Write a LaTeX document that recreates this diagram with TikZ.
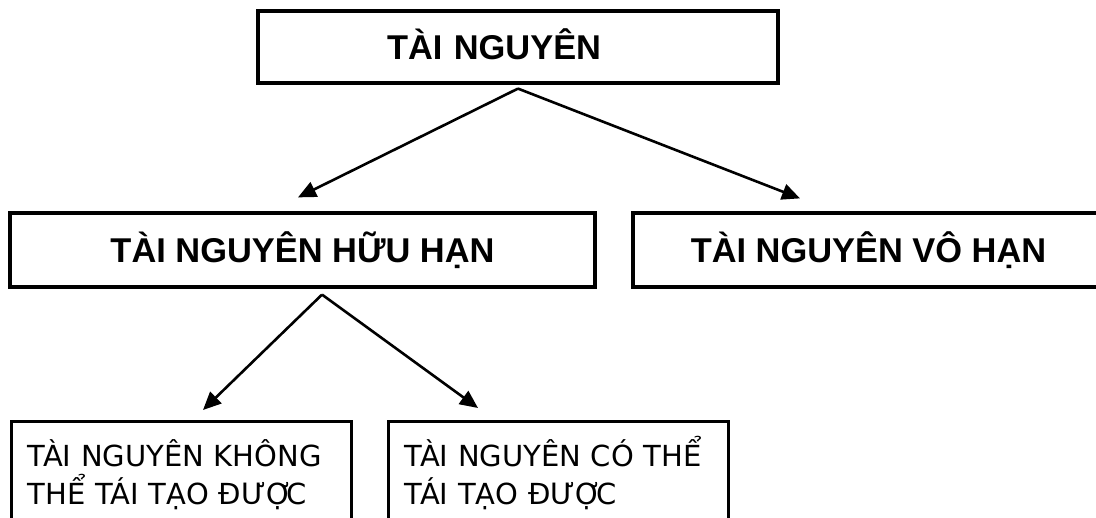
\documentclass[tikz,border=0pt]{standalone}
\usepackage{fontspec}
\setmainfont{Liberation Sans}
\newfontfamily\vnsans{DejaVu Sans}
\usetikzlibrary{arrows.meta}
\tikzset{
  box/.style={draw, line width=1.6pt, font=\bfseries\fontsize{17.2}{20}\selectfont, text height=12.3pt, text depth=0pt},
  leaf/.style={draw, line width=1.6pt, anchor=north west, align=left, text width=154pt, inner xsep=8pt, inner ysep=0pt, font=\vnsans\fontsize{14.5}{18.75}\selectfont},
  arr/.style={-{Triangle[length=9pt,width=8pt]}, line width=1.3pt}
}
\begin{document}
\begin{tikzpicture}[x=0.5pt, y=-0.5pt]
      \useasboundingbox (0,0) rectangle (1096,518);
      \clip (0,0) rectangle (1096,518);
      \node[box, minimum height=36pt, text width=131pt, align=left, inner xsep=64.5pt] (0) at (518,47) {TÀI NGUYÊN};
      \node[box, minimum width=292.5pt, minimum height=37pt] (1) at (302.5,250) {TÀI NGUYÊN HỮU HẠN};
      \node[box, minimum width=235.5pt, minimum height=37pt] (2) at (868.5,250) {TÀI NGUYÊN VÔ HẠN};
      \node[leaf] (3) at (10,420) {\rule{0pt}{22.5pt}TÀI NGUYÊN KHÔNG\\THỂ TÁI TẠO ĐƯỢ\kern-3pt C\rule[-30pt]{0pt}{0pt}};
      \node[leaf] (4) at (387,420) {\rule{0pt}{22.5pt}TÀI NGUYÊN CÓ THỂ\\TÁI TẠO ĐƯỢ\kern-3pt C\rule[-30pt]{0pt}{0pt}};
      \begin{scope}[arr]
        \draw ([yshift=-2pt]0.south) -- ([xshift=-2.25pt,yshift=7pt]1.north);
        \draw ([yshift=-2pt]0.south) -- ([xshift=-34.25pt,yshift=6.5pt]2.north);
        \draw ([xshift=9.75pt,yshift=-3pt]1.south) -- ([xshift=96.5pt,yshift=5pt]3.north west);
        \draw ([xshift=9.75pt,yshift=-3pt]1.south) -- ([xshift=45.5pt,yshift=6pt]4.north west);
      \end{scope}
    \end{tikzpicture}
\end{document}
